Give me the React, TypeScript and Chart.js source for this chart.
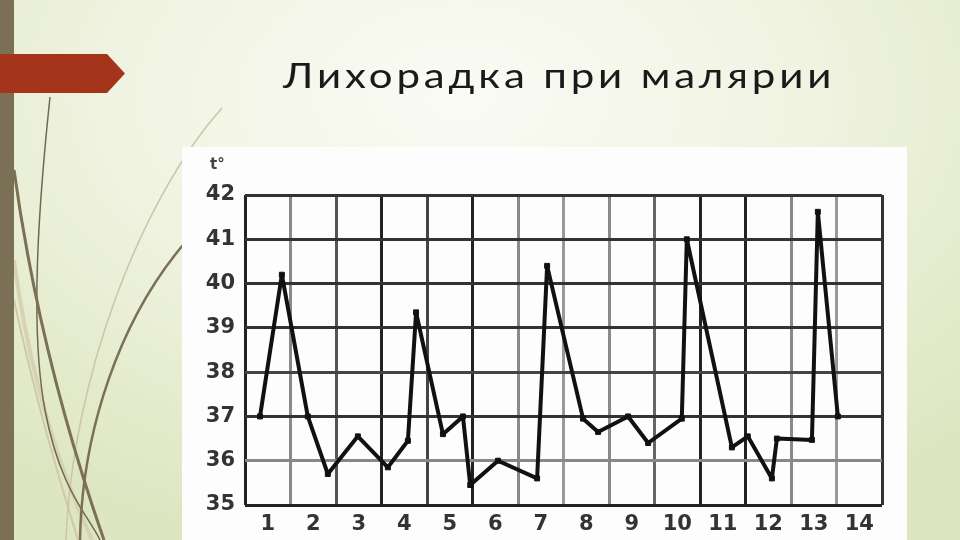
import React, { useEffect, useRef } from "react";
import { Chart, registerables } from "chart.js";

Chart.register(...registerables);

// ---- data ----
const dayLabels = ["1", "2", "3", "4", "5", "6", "7", "8", "9", "10", "11", "12", "13", "14"];
const yTicks = [35, 36, 37, 38, 39, 40, 41, 42];
// position of each reading along the day axis (0 = start of day 1)
const readingX = [0.33, 0.81, 1.38, 1.82, 2.48, 3.14, 3.58, 3.76, 4.35, 4.79, 4.95, 5.56, 6.42, 6.64, 7.43, 7.76, 8.42, 8.86, 9.6, 9.71, 10.7, 11.05, 11.58, 11.69, 12.46, 12.59, 13.03];
// temperature in °C
const temperature = [37.0, 40.2, 37.0, 35.7, 36.55, 35.85, 36.45, 39.35, 36.6, 37.0, 35.45, 36.0, 35.6, 40.4, 36.95, 36.65, 37.0, 36.4, 36.95, 41.0, 36.3, 36.55, 35.6, 36.5, 36.47, 41.62, 37.0];

// styles (scan-like grid tones)
const vGridColors = ["#222", "#8a8a8a", "#555", "#222", "#444", "#222", "#8a8a8a", "#999", "#8a8a8a", "#666", "#222", "#222", "#8a8a8a", "#999", "#333"];
const hGridColors = ["#222", "#888", "#333", "#444", "#333", "#333", "#333", "#333"];

const tickFont = { family: "'DejaVu Sans', sans-serif", size: 21, weight: "bold" as const };

function TempChart() {
  const ref = useRef<HTMLCanvasElement | null>(null);
  useEffect(() => {
    if (!ref.current) return;
    const points = readingX.map((x, i) => ({ x, y: temperature[i] }));
    const chart = new Chart(ref.current, {
      type: "line",
      data: {
        datasets: [
          {
            data: points,
            borderColor: "#111",
            borderWidth: 4,
            borderJoinStyle: "bevel",
            tension: 0,
            pointStyle: "rect",
            pointRadius: 3.5,
            pointBackgroundColor: "#111",
            pointBorderColor: "#111",
            pointBorderWidth: 1,
          },
        ],
      },
      options: {
        animation: false,
        responsive: false,
        layout: { padding: { top: 48, right: 25, left: 0, bottom: 0 } },
        plugins: { legend: { display: false }, tooltip: { enabled: false }, title: { display: false } },
        scales: {
          x: {
            type: "linear",
            min: 0,
            max: dayLabels.length,
            afterBuildTicks: (scale: any) => {
              const t: any[] = [];
              for (let i = 0; i <= dayLabels.length * 2; i++) t.push({ value: i / 2 });
              scale.ticks = t;
            },
            afterFit: (scale: any) => {
              scale.height = 35;
            },
            border: { display: false },
            grid: {
              drawTicks: false,
              lineWidth: 3,
              color: (ctx: any) => {
                const v = ctx.tick ? ctx.tick.value : -1;
                return Number.isInteger(v) ? vGridColors[v] : "rgba(0,0,0,0)";
              },
            },
            ticks: {
              autoSkip: false,
              maxRotation: 0,
              minRotation: 0,
              padding: 7,
              color: "#333",
              font: tickFont,
              callback: (v: any) => {
                const n = Number(v);
                return Number.isInteger(n) ? "" : dayLabels[Math.floor(n)];
              },
            },
          },
          y: {
            type: "linear",
            min: yTicks[0],
            max: yTicks[yTicks.length - 1],
            afterBuildTicks: (scale: any) => {
              scale.ticks = yTicks.map((v) => ({ value: v }));
            },
            afterFit: (scale: any) => {
              scale.width = 63;
            },
            border: { display: false },
            grid: {
              drawTicks: false,
              lineWidth: 3,
              color: (ctx: any) => hGridColors[ctx.index] || "#333",
            },
            ticks: {
              padding: 10,
              color: "#333",
              font: tickFont,
              callback: (v: any) => String(v),
            },
          },
        },
      },
    });
    return () => chart.destroy();
  }, []);
  return <canvas ref={ref} width={725} height={393} style={{ width: 725, height: 393, display: "block" }} />;
}

export default function App() {
  return (
    <div
      style={{
        position: "fixed",
        left: 0,
        top: 0,
        width: 960,
        height: 540,
        overflow: "hidden",
        background:
          "radial-gradient(ellipse 75% 85% at 48% 18%, #fafbf4 0%, #f1f4e3 45%, #e4ebcc 80%, #dde6c1 100%)",
        fontFamily: "'DejaVu Sans', sans-serif",
      }}
    >
      <svg width={960} height={540} style={{ position: "absolute", left: 0, top: 0 }}>
        <path d="M 14 260 C 30 380, 60 470, 92 540" stroke="#d8d2b4" strokeWidth={4} fill="none" />
        <path d="M 14 300 C 40 420, 66 500, 78 540" stroke="#cfc9aa" strokeWidth={2} fill="none" />
        <path d="M 222 108 C 140 200, 72 380, 66 540" stroke="#c9c5a6" strokeWidth={1.5} fill="none" />
        <path d="M 50 97 C 38 210, 30 330, 45 410 S 88 515, 100 540" stroke="#6f6a4e" strokeWidth={1.5} fill="none" />
        <path d="M 14 170 C 32 300, 62 420, 104 540" stroke="#7b6f55" strokeWidth={3} fill="none" />
        <path d="M 183 245 C 120 320, 82 430, 80 540" stroke="#7b6f55" strokeWidth={2.5} fill="none" />
      </svg>
      <div style={{ position: "absolute", left: 0, top: 0, width: 14, height: 540, background: "#7b6f55" }} />
      <svg width={130} height={40} style={{ position: "absolute", left: 0, top: 54 }}>
        <polygon points="0,0 107,0 125,19.5 107,39 0,39" fill="#a5351a" />
      </svg>
      <div
        style={{
          position: "absolute",
          left: 283,
          top: 52,
          fontFamily: "'Lato', 'DejaVu Sans', sans-serif",
          fontWeight: 400,
          fontSize: 35,
          letterSpacing: 3.2,
          color: "#1a1a1a",
          whiteSpace: "nowrap",
          lineHeight: "44px",
          transform: "scaleX(1.2)",
          transformOrigin: "0 0",
        }}
      >
        Лихорадка при малярии
      </div>
      <div style={{ position: "absolute", left: 182, top: 147, width: 725, height: 393, background: "#fdfdfd" }}>
        <TempChart />
        <div
          style={{
            position: "absolute",
            left: 28,
            top: 8,
            fontSize: 15,
            fontWeight: "bold",
            color: "#444",
          }}
        >
          t°
        </div>
      </div>
    </div>
  );
}
